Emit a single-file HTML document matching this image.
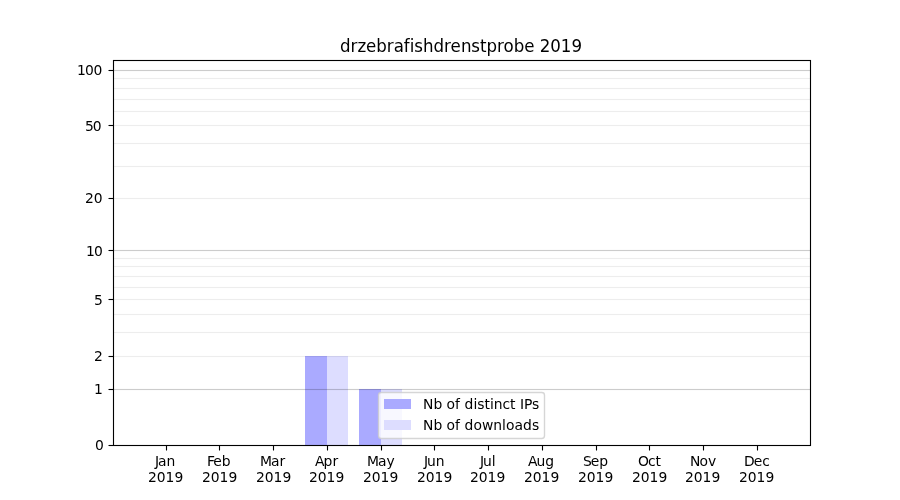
<!DOCTYPE html>
<html lang="en"><head><meta charset="utf-8"><title>drzebrafishdrenstprobe 2019</title>
<style>
html,body{margin:0;padding:0;background:#fff;}
body{width:900px;height:500px;overflow:hidden;}
svg{display:block;}
text{font-family:"DejaVu Sans","Liberation Sans",sans-serif;font-size:13.889px;fill:#000;}
.t{font-size:16.667px;}
.m{text-anchor:middle;}
.e{text-anchor:end;}
</style></head><body>
<svg width="900" height="500" viewBox="0 0 900 500">
<rect x="0" y="0" width="900" height="500" fill="#fff"/>
<g shape-rendering="crispEdges">
<rect x="305" y="356" width="22" height="89" fill="#aaaaff"/>
<rect x="327" y="356" width="21" height="89" fill="#ddddff"/>
<rect x="359" y="389" width="22" height="56" fill="#aaaaff"/>
<rect x="381" y="389" width="21" height="56" fill="#ddddff"/>
</g>
<g fill="#000" shape-rendering="crispEdges"><rect x="114" y="78" width="696" height="1" fill-opacity="0.066"/><rect x="114" y="77" width="696" height="3" fill-opacity="0.004"/><rect x="114" y="88" width="696" height="1" fill-opacity="0.066"/><rect x="114" y="87" width="696" height="3" fill-opacity="0.004"/><rect x="114" y="99" width="696" height="1" fill-opacity="0.066"/><rect x="114" y="98" width="696" height="3" fill-opacity="0.004"/><rect x="114" y="111" width="696" height="1" fill-opacity="0.066"/><rect x="114" y="110" width="696" height="3" fill-opacity="0.004"/><rect x="114" y="125" width="696" height="1" fill-opacity="0.066"/><rect x="114" y="124" width="696" height="3" fill-opacity="0.004"/><rect x="114" y="143" width="696" height="1" fill-opacity="0.066"/><rect x="114" y="142" width="696" height="3" fill-opacity="0.004"/><rect x="114" y="166" width="696" height="1" fill-opacity="0.066"/><rect x="114" y="165" width="696" height="3" fill-opacity="0.004"/><rect x="114" y="198" width="696" height="1" fill-opacity="0.066"/><rect x="114" y="197" width="696" height="3" fill-opacity="0.004"/><rect x="114" y="258" width="696" height="1" fill-opacity="0.066"/><rect x="114" y="257" width="696" height="3" fill-opacity="0.004"/><rect x="114" y="266" width="696" height="1" fill-opacity="0.066"/><rect x="114" y="265" width="696" height="3" fill-opacity="0.004"/><rect x="114" y="276" width="696" height="1" fill-opacity="0.066"/><rect x="114" y="275" width="696" height="3" fill-opacity="0.004"/><rect x="114" y="287" width="696" height="1" fill-opacity="0.066"/><rect x="114" y="286" width="696" height="3" fill-opacity="0.004"/><rect x="114" y="299" width="696" height="1" fill-opacity="0.066"/><rect x="114" y="298" width="696" height="3" fill-opacity="0.004"/><rect x="114" y="314" width="696" height="1" fill-opacity="0.066"/><rect x="114" y="313" width="696" height="3" fill-opacity="0.004"/><rect x="114" y="332" width="696" height="1" fill-opacity="0.066"/><rect x="114" y="331" width="696" height="3" fill-opacity="0.004"/><rect x="114" y="356" width="696" height="1" fill-opacity="0.066"/><rect x="114" y="355" width="696" height="3" fill-opacity="0.004"/><rect x="114" y="70" width="696" height="1" fill-opacity="0.19"/><rect x="114" y="69" width="696" height="3" fill-opacity="0.012"/><rect x="114" y="250" width="696" height="1" fill-opacity="0.19"/><rect x="114" y="249" width="696" height="3" fill-opacity="0.012"/><rect x="114" y="389" width="696" height="1" fill-opacity="0.19"/><rect x="114" y="388" width="696" height="3" fill-opacity="0.012"/></g>
<rect x="113.5" y="60.5" width="697" height="385" fill="none" stroke="#000" stroke-width="1.11"/>
<g stroke="#000" stroke-width="1.11">
<line x1="108.5" y1="445.5" x2="113.5" y2="445.5"/>
<line x1="108.5" y1="389.5" x2="113.5" y2="389.5"/>
<line x1="108.5" y1="356.5" x2="113.5" y2="356.5"/>
<line x1="108.5" y1="299.5" x2="113.5" y2="299.5"/>
<line x1="108.5" y1="250.5" x2="113.5" y2="250.5"/>
<line x1="108.5" y1="198.5" x2="113.5" y2="198.5"/>
<line x1="108.5" y1="125.5" x2="113.5" y2="125.5"/>
<line x1="108.5" y1="70.5" x2="113.5" y2="70.5"/>
<line x1="166.5" y1="445.5" x2="166.5" y2="450.5"/>
<line x1="219.5" y1="445.5" x2="219.5" y2="450.5"/>
<line x1="273.5" y1="445.5" x2="273.5" y2="450.5"/>
<line x1="327.5" y1="445.5" x2="327.5" y2="450.5"/>
<line x1="381.5" y1="445.5" x2="381.5" y2="450.5"/>
<line x1="434.5" y1="445.5" x2="434.5" y2="450.5"/>
<line x1="488.5" y1="445.5" x2="488.5" y2="450.5"/>
<line x1="542.5" y1="445.5" x2="542.5" y2="450.5"/>
<line x1="596.5" y1="445.5" x2="596.5" y2="450.5"/>
<line x1="649.5" y1="445.5" x2="649.5" y2="450.5"/>
<line x1="703.5" y1="445.5" x2="703.5" y2="450.5"/>
<line x1="757.5" y1="445.5" x2="757.5" y2="450.5"/>
</g>
<rect x="378.5" y="392.5" width="166" height="46" rx="2.8" ry="2.8" fill="#fff" fill-opacity="0.8" stroke="#ccc" stroke-opacity="0.8" stroke-width="1.39"/>
<g shape-rendering="crispEdges"><rect x="384" y="399" width="27" height="10" fill="#aaaaff"/><rect x="384" y="420" width="27" height="10" fill="#ddddff"/></g>
<text x="155 158 166.62" y="466.0">Jan</text>
<text x="148 156.75 165.5 174.38" y="482.0">2019</text>
<text x="207 213.25 221.75" y="466.0">Feb</text>
<text x="202 210.75 219.5 228.38" y="482.0">2019</text>
<text x="260 271 279.62" y="466.0">Mar</text>
<text x="256 264.75 273.5 282.38" y="482.0">2019</text>
<text x="315 323.5 332.38" y="466.0">Apr</text>
<text x="309 317.75 326.5 335.38" y="482.0">2019</text>
<text x="367 378 386.62" y="466.0">May</text>
<text x="363 371.75 380.5 389.38" y="482.0">2019</text>
<text x="424 427 435.75" y="466.0">Jun</text>
<text x="417 425.75 434.5 443.38" y="482.0">2019</text>
<text x="480 483 491.75" y="466.0">Jul</text>
<text x="470 478.75 487.5 496.38" y="482.0">2019</text>
<text x="528 536.5 545.25" y="466.0">Aug</text>
<text x="524 532.75 541.5 550.38" y="482.0">2019</text>
<text x="583 590.75 599.25" y="466.0">Sep</text>
<text x="578 586.75 595.5 604.38" y="482.0">2019</text>
<text x="638 647.88 655.5" y="466.0">Oct</text>
<text x="632 640.75 649.5 658.38" y="482.0">2019</text>
<text x="690 699.38 707.88" y="466.0">Nov</text>
<text x="685 693.75 702.5 711.38" y="482.0">2019</text>
<text x="744 753.75 762.25" y="466.0">Dec</text>
<text x="739 747.75 756.5 765.38" y="482.0">2019</text>
<text x="95" y="450.0">0</text>
<text x="94" y="394.0">1</text>
<text x="94" y="361.0">2</text>
<text x="94" y="305.0">5</text>
<text x="86 93.88" y="256.0">10</text>
<text x="85 93.75" y="203.0">20</text>
<text x="85 92.75" y="131.0">50</text>
<text x="77 84.88 93.62" y="75.0">100</text>
<text class="t" transform="translate(0,52.0) scale(1,1.1)" x="340 350.5 357.38 366.12 376.38 386.88 393.75 403.88 409.75 414.38 423.12 433.62 444.12 450.62 460.88 471.38 480.12 486.62 497.12 503.62 513.75 524.25 534.5 539.75 550.38 560.88 571.5" y="0">drzebrafishdrenstprobe 2019</text>
<text x="423 433.38 442.25 446.62 455.12 460.12 464.5 473.38 477.25 484.38 489.88 493.75 502.5 510.12 515.62 520 524 532.12" y="409.0">Nb of distinct IPs</text>
<text x="423 433.38 442.25 446.62 455.12 460.12 464.5 473.38 481.88 493.25 502 505.88 514.38 523 531.88" y="430.0">Nb of downloads</text>
</svg></body></html>
